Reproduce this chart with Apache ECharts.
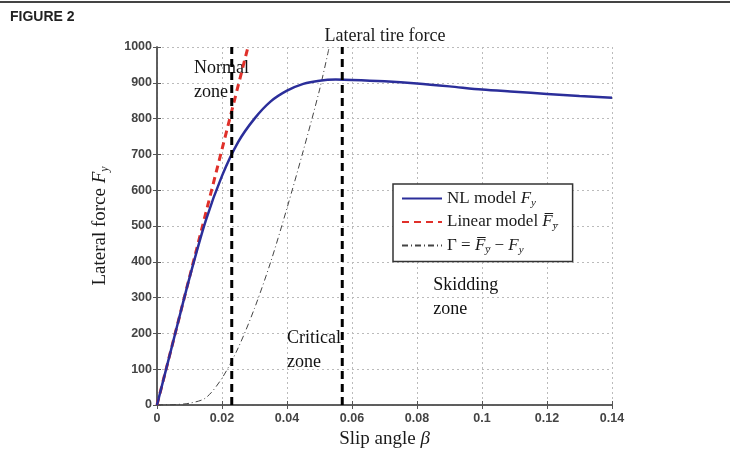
<!DOCTYPE html>
<html>
<head>
<meta charset="utf-8">
<script src="https://cdn.jsdelivr.net/npm/echarts@6/dist/echarts.min.js"></script>
<style>
  html, body { margin: 0; padding: 0; background: #fff; }
  #chart { width: 734px; height: 462px; }
</style>
</head>
<body>
<div id="chart"></div>
<script>
// slip angle samples (rad) and forces
const betaNL = [0, 0.005, 0.01, 0.015, 0.02, 0.025, 0.03, 0.035, 0.04, 0.045, 0.05, 0.055, 0.06, 0.07, 0.08, 0.09, 0.1, 0.11, 0.12, 0.13, 0.14];
const forceNL = [0, 178, 355, 515, 640, 735, 800, 848, 878, 897, 906, 909, 908, 904, 898, 890, 881, 875, 869, 863, 858];
const betaLin = [0, 0.028];
const forceLin = [0, 1000];
const betaGamma = [0, 0.005, 0.01, 0.015, 0.02, 0.025, 0.03, 0.035, 0.04, 0.045, 0.05, 0.053];
const gamma = [0, 1, 5, 20, 75, 160, 270, 400, 550, 710, 880, 1000];
const zoneLimits = [0.023, 0.057];
const xTicks = { min: 0, max: 0.14, step: 0.02 };
const yTicks = { min: 0, max: 1000, step: 100 };
// zone annotations (data coords)
const noteBeta = [0.0114, 0.0400, 0.0850];
const noteForce = [908, 154, 302];
const noteText = ['Normal\nzone', 'Critical\nzone', 'Skidding\nzone'];

const serif = "'Liberation Serif', 'DejaVu Serif', serif";
const sans = "'Liberation Sans', Arial, sans-serif";
const pairs = (xs, ys) => xs.map((x, i) => [x, ys[i]]);

const chart = echarts.init(document.getElementById('chart'));

const subRich = (size) => ({
  i: { fontFamily: serif, fontStyle: 'italic', fontSize: size, color: '#1a1a1a' },
  s: { fontFamily: serif, fontStyle: 'italic', fontSize: Math.round(size * 0.65), color: '#1a1a1a', padding: [Math.round(size * 0.5), 0, 0, 0] },
});

const frameAxis = {
  axisLine: { show: true, lineStyle: { color: '#555', width: 1.5 } },
  axisTick: { show: true, inside: true, length: 4, lineStyle: { color: '#555' } },
};
const tickLabel = { fontFamily: sans, fontSize: 12.5, fontWeight: 'bold', color: '#444' };
const grid = { show: true, lineStyle: { color: '#bbb', type: [2, 3], width: 1 } };

const zoneSeries = zoneLimits.map((x, k) => ({
  name: 'limit' + k, type: 'line', symbol: 'none', z: 6, silent: true,
  data: [[x, yTicks.min], [x, yTicks.max]],
  lineStyle: { color: '#000', width: 3, type: [8, 5] },
}));

const option = {
  animation: false,
  backgroundColor: '#fff',
  title: {
    text: 'Lateral tire force',
    left: 380,
    textAlign: 'center',
    top: 22,
    textStyle: { fontFamily: serif, fontSize: 18, fontWeight: 'normal', color: '#1a1a1a' },
  },
  graphic: [
    { type: 'line', shape: { x1: 0, y1: 2, x2: 730, y2: 2 }, style: { stroke: '#444', lineWidth: 2 } },
    {
      type: 'text', left: 10, top: 10,
      style: { text: 'FIGURE 2', fontFamily: "'Liberation Sans Narrow', " + sans, fontSize: 14, fontWeight: 'bold', fill: '#222' },
    },
  ],
  grid: { left: 157, right: 122, top: 47, bottom: 57 },
  legend: {
    orient: 'vertical',
    left: 393,
    top: 184,
    padding: [6, 15, 6, 8],
    itemGap: 5,
    itemWidth: 40,
    itemHeight: 12,
    backgroundColor: '#fff',
    borderColor: '#333',
    borderWidth: 1.5,
    borderRadius: 0,
    selectedMode: false,
    itemStyle: { opacity: 0 },
    textStyle: { fontFamily: serif, fontSize: 17, color: '#1a1a1a', rich: subRich(17) },
    formatter: (name) => {
      if (name === 'NL') return 'NL model {i|F}{s|y}';
      if (name === 'Linear') return 'Linear model {i|F\u0305}{s|y\u0305}';
      return '\u0393 = {i|F\u0305}{s|y\u0305} \u2212 {i|F}{s|y}';
    },
    data: ['NL', 'Linear', 'Gamma'],
  },
  xAxis: [
    {
      type: 'value', min: xTicks.min, max: xTicks.max, interval: xTicks.step,
      name: 'Slip angle {i|\u03b2}',
      nameLocation: 'middle', nameGap: 22,
      nameTextStyle: { fontFamily: serif, fontSize: 19, color: '#1a1a1a', rich: { i: { fontFamily: serif, fontStyle: 'italic', fontSize: 19, color: '#1a1a1a' } } },
      ...frameAxis,
      axisLabel: { ...tickLabel, margin: 7 },
      splitLine: grid,
    },
    {
      type: 'value', position: 'top', min: xTicks.min, max: xTicks.max, interval: xTicks.step,
      ...frameAxis, axisLabel: { show: false }, splitLine: { show: false },
    },
  ],
  yAxis: [
    {
      type: 'value', min: yTicks.min, max: yTicks.max, interval: yTicks.step,
      name: 'Lateral force {i|F}{s|y}',
      nameLocation: 'middle', nameGap: 46, nameRotate: 90,
      nameTextStyle: { fontFamily: serif, fontSize: 19, color: '#1a1a1a', rich: subRich(19) },
      ...frameAxis,
      axisLabel: { ...tickLabel, margin: 5, formatter: (v) => String(v) },
      splitLine: grid,
    },
    {
      type: 'value', position: 'right', min: yTicks.min, max: yTicks.max, interval: yTicks.step,
      ...frameAxis, axisLabel: { show: false }, splitLine: { show: false },
    },
  ],
  series: [
    {
      name: 'NL', type: 'line', data: pairs(betaNL, forceNL),
      smooth: 0.3, symbol: 'none', z: 5,
      lineStyle: { color: '#2b2e9a', width: 2.5 },
      itemStyle: { color: '#2b2e9a' },
    },
    {
      name: 'Linear', type: 'line', data: pairs(betaLin, forceLin),
      symbol: 'none', z: 4,
      lineStyle: { color: '#e0302a', width: 3, type: [7, 5] },
      itemStyle: { color: '#e0302a' },
    },
    {
      name: 'Gamma', type: 'line', data: pairs(betaGamma, gamma),
      smooth: 0.3, symbol: 'none', z: 3,
      lineStyle: { color: '#444', width: 1, type: [6, 3, 1, 3] },
      itemStyle: { color: '#444' },
    },
    ...zoneSeries,
    {
      name: 'notes', type: 'scatter', symbolSize: 0, z: 2, silent: true,
      itemStyle: { opacity: 1 },
      data: pairs(noteBeta, noteForce),
      label: {
        show: true, position: 'right', distance: 0,
        formatter: (p) => noteText[p.dataIndex],
        fontFamily: serif, fontSize: 18, lineHeight: 24, color: '#111', align: 'left',
      },
    },
  ],
};

chart.setOption(option);
</script>
</body>
</html>
